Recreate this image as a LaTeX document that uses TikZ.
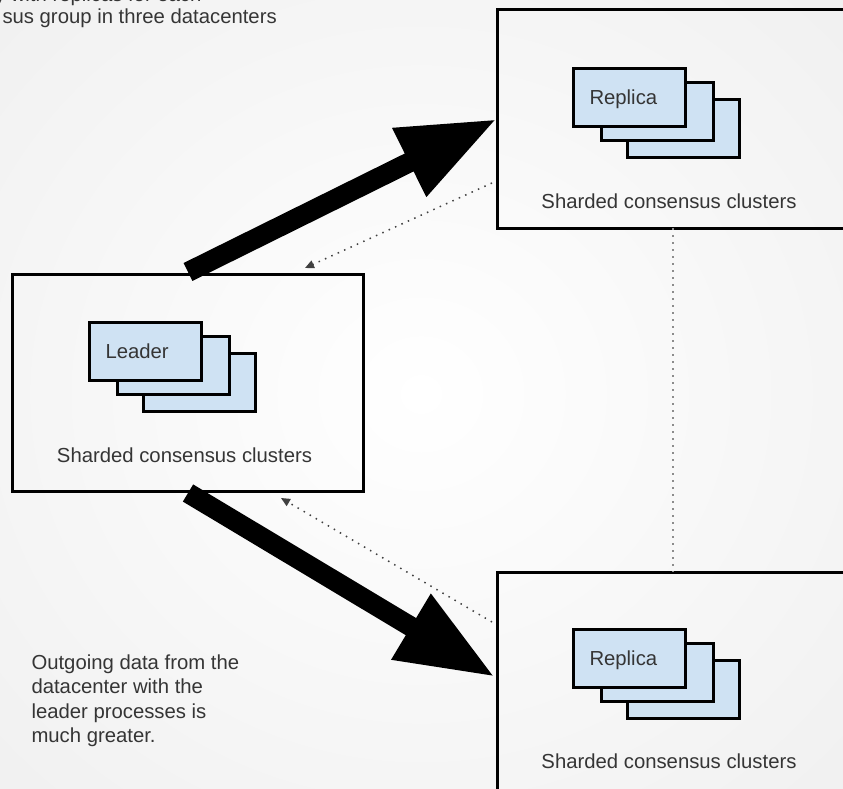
\documentclass[tikz,border=0pt]{standalone}
\usepackage{fontspec}
\setmainfont{Liberation Sans}
\usetikzlibrary{arrows.meta}
\definecolor{cardblue}{HTML}{CFE2F3}
\definecolor{inktext}{HTML}{353535}

\begin{document}
\begin{tikzpicture}[x=1pt,y=-1pt,
  every node/.style={inner sep=0pt, outer sep=0pt},
  txt/.style={font=\fontsize{20.3}{24.3}\selectfont, text=inktext},
  dcbox/.style={draw=black, line width=3pt},
  card/.style={draw=black, line width=3pt, fill=cardblue,
    minimum width=112pt, minimum height=58pt},
  bigflow/.style={line width=20pt, -{Triangle[length=98pt,width=71pt]}},
  ackflow/.style={draw=black!75, line width=1.5pt,
    dash pattern=on 1.5pt off 5.5pt, -{Triangle[length=9pt,width=8pt]}},
  linkline/.style={draw=black!45, line width=1.2pt, dash pattern=on 2pt off 5pt}]

% page frame and soft background
\useasboundingbox (0,0) rectangle (843,789);
\clip (0,0) rectangle (843,789);
\fill[black!8] (0,0) rectangle (843,789);
\shade[inner color=white, outer color=black!8] (421,394) ellipse [x radius=840, y radius=790];

% datacenter frames
\node[dcbox, minimum width=363pt, minimum height=218pt] (dcA) at (678.5,119) {};
\node[dcbox, minimum width=351pt, minimum height=217pt] (dcB) at (187.5,382.5) {};
\node[dcbox, minimum width=363pt, minimum height=236pt] (dcC) at (678.5,690) {};

% replica stack, upper datacenter
\node[card] (rA3) at (683,128.5) {};
\node[card] (rA2) at (657,111.5) {};
\node[card] (rA1) at (629,97.5) {};
\node[txt, anchor=base west] (rAt) at (589.5,105) {Replica};
\node[txt, anchor=base] (capA) at (669,208) {Sharded consensus clusters};

% leader stack
\node[card] (lB3) at (199,382.5) {};
\node[card] (lB2) at (173,365.5) {};
\node[card] (lB1) at (145,351.5) {};
\node[txt, anchor=base west] (lBt) at (105.5,358) {Leader};
\node[txt, anchor=base] (capB) at (184.5,462) {Sharded consensus clusters};

% replica stack, lower datacenter
\node[card] (rC3) at (683,689) {};
\node[card] (rC2) at (657,672) {};
\node[card] (rC1) at (629,658) {};
\node[txt, anchor=base west] (rCt) at (589.5,665) {Replica};
\node[txt, anchor=base] (capC) at (669,768) {Sharded consensus clusters};

% link between the two replica datacenters
\draw[linkline] ([xshift=176pt]dcA.south west) -- ([xshift=176pt]dcC.north west);

% heavy outgoing traffic from the leader
\draw[bigflow] ([xshift=176pt,yshift=2pt]dcB.north west) -- (dcA.west);
\draw[bigflow] ([xshift=176pt,yshift=-2pt]dcB.south west) -- ([xshift=-2pt,yshift=13pt]dcC.west);

% light return traffic
\draw[ackflow] ([xshift=-5pt,yshift=-64pt]dcA.west) -- ([xshift=293pt,yshift=6pt]dcB.north west);
\draw[ackflow] ([xshift=-5pt,yshift=68pt]dcC.west) -- ([xshift=269pt,yshift=-7pt]dcB.south west);

% captions (the base anchor of a multi-line node sits on its last line)
\node[txt, anchor=base west] (noteA) at (-5,1.5) {y with replicas for each};
\node[txt, anchor=base west] (noteB) at (2.5,24) {sus group in three datacenters};
\node[txt, anchor=base west, align=left] (note) at (31.5,742.4)
  {Outgoing data from the\\datacenter with the\\leader processes is\\much greater.};
\end{tikzpicture}
\end{document}
